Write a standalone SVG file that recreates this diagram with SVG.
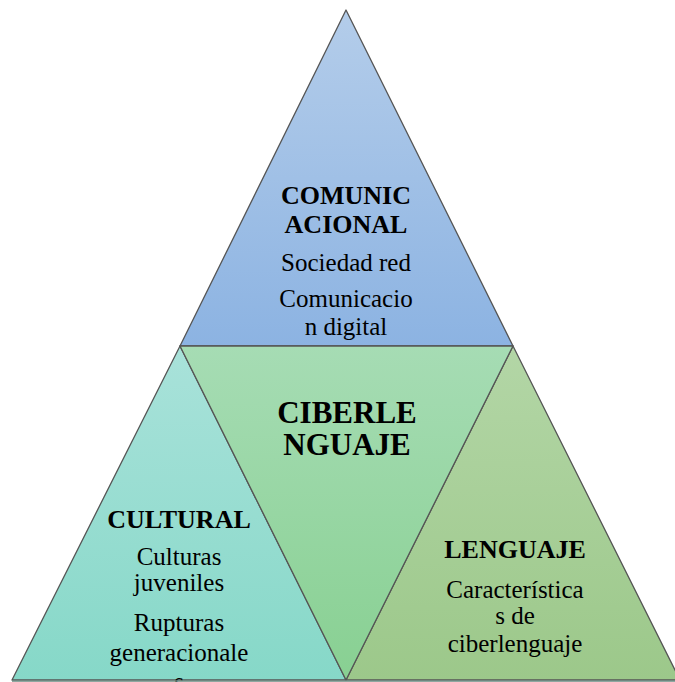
<svg xmlns="http://www.w3.org/2000/svg" width="675" height="682" viewBox="0 0 675 682">
<defs>
<linearGradient id="gTop" x1="0" y1="0" x2="0" y2="1"><stop offset="0" stop-color="#b4cdea"/><stop offset="1" stop-color="#8cb3e2"/></linearGradient>
<linearGradient id="gLeft" x1="0" y1="0" x2="0" y2="1"><stop offset="0" stop-color="#a9e2da"/><stop offset="1" stop-color="#86d8c8"/></linearGradient>
<linearGradient id="gMid" x1="0" y1="0" x2="0" y2="1"><stop offset="0" stop-color="#a6dcb4"/><stop offset="1" stop-color="#88d092"/></linearGradient>
<linearGradient id="gRight" x1="0" y1="0" x2="0" y2="1"><stop offset="0" stop-color="#b3d6a6"/><stop offset="1" stop-color="#9cc88a"/></linearGradient>
</defs>
<style>
.tri{stroke:#555;stroke-width:1.3;stroke-linejoin:round}
text{font-family:"Liberation Serif","Times New Roman",Times,"DejaVu Serif",serif;fill:#000;text-anchor:middle}
.h{font-weight:bold;font-size:26px}
.t{font-weight:normal;font-size:25px}
.big{font-size:31px}
</style>
<rect width="675" height="682" fill="#fff"/>
<g id="connectors"></g>
<g id="top">
<polygon class="tri" fill="url(#gTop)" points="346,10 513,346 180,346"/>
<text class="h" x="346" y="204">COMUNIC</text>
<text class="h" x="346" y="233">ACIONAL</text>
<text class="t" x="346" y="271">Sociedad red</text>
<text class="t" x="346" y="307">Comunicacio</text>
<text class="t" x="346" y="335">n digital</text>
</g>
<g id="left">
<polygon class="tri" fill="url(#gLeft)" points="180,346 346,680 12,680"/>
<text class="h" x="179" y="528">CULTURAL</text>
<text class="t" x="179" y="565">Culturas</text>
<text class="t" x="179" y="591">juveniles</text>
<text class="t" x="179" y="631">Rupturas</text>
<text class="t" x="179" y="661">generacionale</text>
<text class="t" x="179" y="690">s</text>
</g>
<g id="right">
<polygon class="tri" fill="url(#gRight)" points="513,346 680,680 346,680"/>
<text class="h" x="515" y="558">LENGUAJE</text>
<text class="t" x="515" y="598">Característica</text>
<text class="t" x="515" y="624">s de</text>
<text class="t" x="515" y="652">ciberlenguaje</text>
</g>
<g id="center">
<polygon class="tri" fill="url(#gMid)" points="180,346 513,346 346,680"/>
<text class="h big" x="347" y="423">CIBERLE</text>
<text class="h big" x="347" y="455">NGUAJE</text>
</g>
<line x1="12" y1="681" x2="675" y2="681" stroke="#6a8a80" stroke-width="1.5"/>
</svg>
